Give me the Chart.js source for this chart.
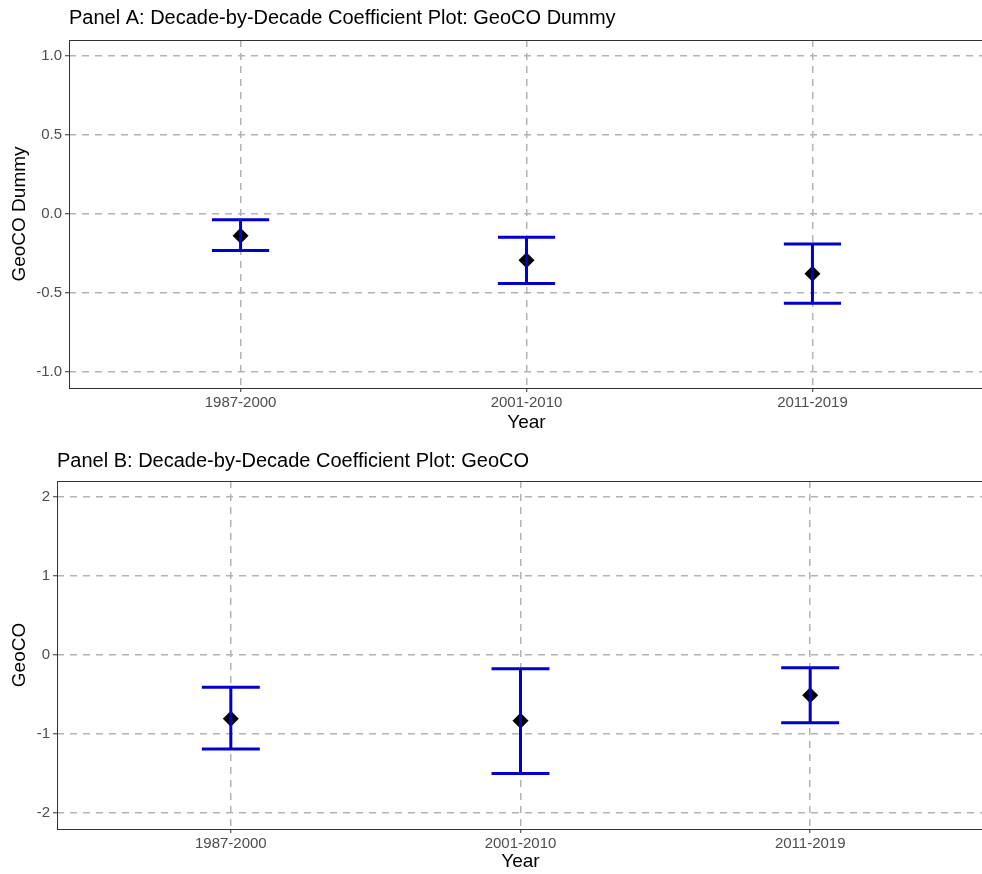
<!DOCTYPE html>
<html>
<head>
<meta charset="utf-8">
<script src="https://cdn.jsdelivr.net/npm/chart.js@4/dist/chart.umd.min.js"></script>
<style>
  html, body { margin: 0; padding: 0; background: #fff; overflow: hidden; }
  .panel { position: relative; width: 992px; height: 437px; }
</style>
</head>
<body>
<div class="panel"><canvas id="panel-a"></canvas></div>
<div class="panel"><canvas id="panel-b"></canvas></div>
<script>
// decades on the x axis
const categories = ['1987-2000', '2001-2010', '2011-2019']

// Panel A: GeoCO Dummy
const estA = [-0.137, -0.292, -0.377]
const lowA = [-0.231, -0.440, -0.565]
const highA = [-0.037, -0.147, -0.189]
const yTicksA = [-1, -0.5, 0, 0.5, 1]
const yTickLabelsA = ['-1.0', '-0.5', '0.0', '0.5', '1.0']

// Panel B: GeoCO
const estB = [-0.806, -0.831, -0.510]
const lowB = [-1.190, -1.498, -0.857]
const highB = [-0.409, -0.173, -0.160]
const yTicksB = [-2, -1, 0, 1, 2]
const yTickLabelsB = ['-2', '-1', '0', '1', '2']

const FONT = '"Liberation Sans", Arial, Helvetica, sans-serif'
const capHalf = 0.1

// I-shaped error bars: top cap, stem, bottom cap, separated by gaps
function errorBarPoints(low, high) {
  const pts = []
  low.forEach((l, i) => {
    const h = high[i]
    pts.push({x: i - capHalf, y: h}, {x: i + capHalf, y: h}, {x: i, y: null})
    pts.push({x: i, y: h}, {x: i, y: l}, {x: i, y: null})
    pts.push({x: i - capHalf, y: l}, {x: i + capHalf, y: l}, {x: i, y: null})
  })
  return pts
}

// panel border + left aligned title
const panelDecor = {
  id: 'panelDecor',
  afterDraw(chart, args, opts) {
    const {ctx, chartArea: a} = chart
    ctx.save()
    ctx.strokeStyle = '#333333'
    ctx.lineWidth = 1
    ctx.strokeRect(a.left + 0.5, a.top + 0.5, a.right - a.left, a.bottom - a.top)
    ctx.fillStyle = '#000'
    ctx.font = opts.size + 'px ' + FONT
    ctx.textBaseline = 'middle'
    ctx.textAlign = 'left'
    ctx.fillText(opts.text, a.left, opts.y)
    ctx.restore()
  }
}

function makeConfig(o) {
  return {
    type: 'scatter',
    data: {
      datasets: [
        {
          data: errorBarPoints(o.low, o.high),
          showLine: true,
          spanGaps: false,
          borderColor: '#0000CD',
          borderWidth: 3,
          borderCapStyle: 'butt',
          pointRadius: 0,
          order: 0,
        },
        {
          data: o.est.map((v, i) => ({x: i, y: v})),
          pointStyle: 'rectRot',
          pointRadius: 8,
          backgroundColor: '#000',
          borderWidth: 0,
          order: 1,
        },
      ],
    },
    options: {
      responsive: true,
      maintainAspectRatio: false,
      animation: false,
      events: [],
      layout: {padding: {top: o.top, left: 0, right: 1, bottom: 0}},
      plugins: {
        legend: {display: false},
        tooltip: {enabled: false},
        panelDecor: {text: o.title, y: o.titleY, size: 20},
      },
      scales: {
        x: {
          type: 'linear',
          min: -0.6,
          max: 2.6,
          afterBuildTicks: s => { s.ticks = categories.map((c, i) => ({value: i})) },
          afterFit: s => { s.height = o.xHeight },
          ticks: {
            callback: v => categories[v],
            autoSkip: false,
            maxRotation: 0,
            padding: 2,
            color: '#4d4d4d',
            font: {family: FONT, size: 15},
          },
          grid: {color: '#b3b3b3', lineWidth: 1.5, tickColor: '#333', tickWidth: 1, tickLength: 4, tickBorderDash: []},
          border: {display: false, dash: [7, 6]},
          title: {display: true, text: 'Year', color: '#000', font: {family: FONT, size: 19}, padding: {top: 0, bottom: o.xTitlePad}},
        },
        y: {
          min: o.yMin,
          max: o.yMax,
          afterBuildTicks: s => { s.ticks = o.yTicks.map(v => ({value: v})) },
          afterFit: s => { s.width = o.yWidth },
          ticks: {
            callback: v => o.yTickLabels[o.yTicks.indexOf(v)],
            padding: 3,
            color: '#4d4d4d',
            font: {family: FONT, size: 15},
          },
          grid: {color: '#b3b3b3', lineWidth: 1.5, tickColor: '#333', tickWidth: 1, tickLength: 4, tickBorderDash: []},
          border: {display: false, dash: [7, 6]},
          title: {display: true, text: o.yTitle, color: '#000', font: {family: FONT, size: 19}, padding: {top: 8, bottom: 0}},
        },
      },
    },
    plugins: [panelDecor],
  }
}

const panelA = document.getElementById('panel-a')
window.chartA = new Chart(panelA, makeConfig({
  est: estA, low: lowA, high: highA,
  yTicks: yTicksA, yTickLabels: yTickLabelsA, yMin: -1.1, yMax: 1.1,
  title: 'Panel A: Decade-by-Decade Coefficient Plot: GeoCO Dummy', titleY: 18,
  yTitle: 'GeoCO Dummy', top: 40, xHeight: 49, yWidth: 69, xTitlePad: 3,
}))

const panelB = document.getElementById('panel-b')
window.chartB = new Chart(panelB, makeConfig({
  est: estB, low: lowB, high: highB,
  yTicks: yTicksB, yTickLabels: yTickLabelsB, yMin: -2.2, yMax: 2.2,
  title: 'Panel B: Decade-by-Decade Coefficient Plot: GeoCO', titleY: 24,
  yTitle: 'GeoCO', top: 44, xHeight: 45, yWidth: 57, xTitlePad: 1,
}))
</script>
</body>
</html>
